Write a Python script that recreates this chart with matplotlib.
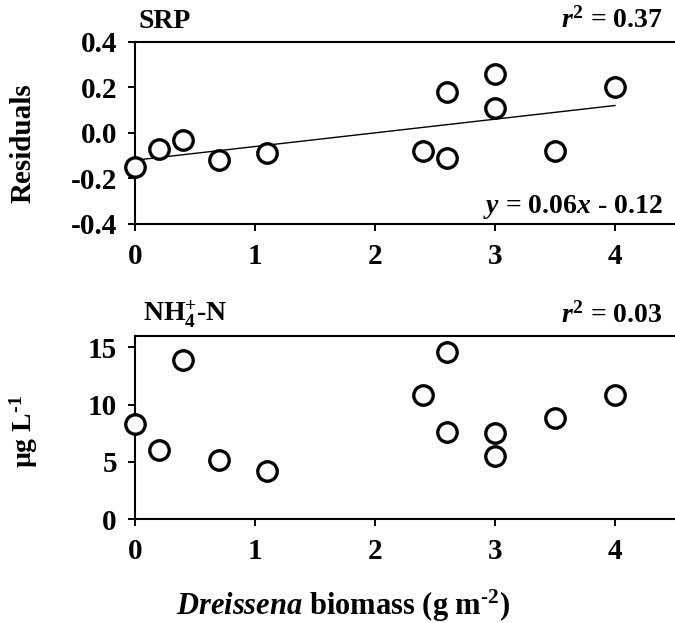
import matplotlib
matplotlib.use("Agg")
import matplotlib.pyplot as plt
import numpy as np

plt.rcParams['font.family'] = ['Liberation Serif', 'DejaVu Serif']
plt.rcParams['font.weight'] = 'bold'
plt.rcParams['mathtext.fontset'] = 'custom'
plt.rcParams['mathtext.rm'] = 'Liberation Serif:bold'
plt.rcParams['mathtext.bf'] = 'Liberation Serif:bold'
plt.rcParams['mathtext.it'] = 'Liberation Serif:italic:bold'

# Data
srp_x = [0.0, 0.2, 0.4, 0.7, 1.1, 2.4, 2.6, 2.6, 3.0, 3.0, 3.5, 4.0]
srp_y = [-0.15, -0.07, -0.03, -0.12, -0.09, -0.08, 0.18, -0.11, 0.26, 0.11, -0.08, 0.20]
fit_slope = 0.06
fit_intercept = -0.12
fit_x = [0.0, 4.0]

nh4_x = [0.0, 0.2, 0.4, 0.7, 1.1, 2.4, 2.6, 2.6, 3.0, 3.0, 3.5, 4.0]
nh4_y = [8.3, 6.0, 13.9, 5.2, 4.2, 10.8, 14.6, 7.6, 7.5, 5.5, 8.8, 10.8]

x_ticks = [0, 1, 2, 3, 4]
srp_ticks = [-0.4, -0.2, 0.0, 0.2, 0.4]
srp_ticklabels = ['-0.4', '-0.2', '0.0', '0.2', '0.4']
nh4_ticks = [0, 5, 10, 15]

W, H = 675, 623
fig = plt.figure(figsize=(W / 100, H / 100), dpi=100)

def fx(px):
    return px / W

def fy(py):
    return 1 - py / H

ax1 = fig.add_axes([fx(135), fy(224), fx(540), (224 - 41.7) / H])
ax2 = fig.add_axes([fx(135), fy(519.3), fx(540), (519.3 - 335.7) / H])

tfs = 21
fs = 20
for ax in (ax1, ax2):
    ax.spines['right'].set_visible(False)
    for s in ('left', 'top', 'bottom'):
        ax.spines[s].set_linewidth(1.5)
    ax.tick_params(direction='out', length=5, width=1.4, labelsize=tfs)
    ax.tick_params(axis='y', pad=8)
    ax.tick_params(axis='x', pad=8.5)
    ax.set_xlim(0, 4.5)
    ax.set_xticks(x_ticks)

mk = dict(marker='o', markersize=14, markerfacecolor='white', markeredgecolor='black',
          markeredgewidth=2.4, linestyle='none', clip_on=False, zorder=3)

ax1.plot(fit_x, [fit_slope * v + fit_intercept for v in fit_x], color='black', lw=1.0, zorder=2)
ax1.plot(srp_x, srp_y, **mk)
ax1.set_ylim(-0.4, 0.4)
ax1.set_yticks(srp_ticks)
ax1.set_yticklabels(srp_ticklabels, fontweight='bold', fontsize=tfs)
ax1.set_xticklabels([str(t) for t in x_ticks], fontweight='bold', fontsize=tfs)

ax2.plot(nh4_x, nh4_y, **mk)
ax2.set_ylim(0, 16)
ax2.set_yticks(nh4_ticks)
ax2.set_yticklabels([str(t) for t in nh4_ticks], fontweight='bold', fontsize=tfs)
ax2.set_xticklabels([str(t) for t in x_ticks], fontweight='bold', fontsize=tfs)

# Texts
fig.text(fx(139), fy(28), 'SRP', fontsize=fs, fontweight='bold', ha='left', va='baseline')
fig.text(fx(663), fy(28), r'$\mathit{r}^{2}$ = 0.37', fontsize=fs, fontweight='bold', ha='right', va='baseline')
fig.text(fx(663), fy(213), r'$\mathit{y}$ = 0.06$\mathit{x}$ - 0.12', fontsize=fs, fontweight='bold', ha='right', va='baseline')
fig.text(fx(143), fy(322), r'NH$_{4}^{+}$-N', fontsize=fs, fontweight='bold', ha='left', va='baseline')
fig.text(fx(663), fy(323), r'$\mathit{r}^{2}$ = 0.03', fontsize=fs, fontweight='bold', ha='right', va='baseline')

fig.text(fx(23), fy(143), 'Residuals', fontsize=21, fontweight='bold', rotation=90, ha='center', va='center')
fig.text(fx(24), fy(432), r'µg L$^{\text{-}1}$', fontsize=20, fontweight='bold', rotation=90, ha='center', va='center')
fig.text(fx(343), fy(615), r'$\mathit{Dreissena}$ biomass (g m$^{\text{-}2}$)', fontsize=22, fontweight='bold', ha='center', va='baseline')

fig.savefig('out.png', dpi=100)
